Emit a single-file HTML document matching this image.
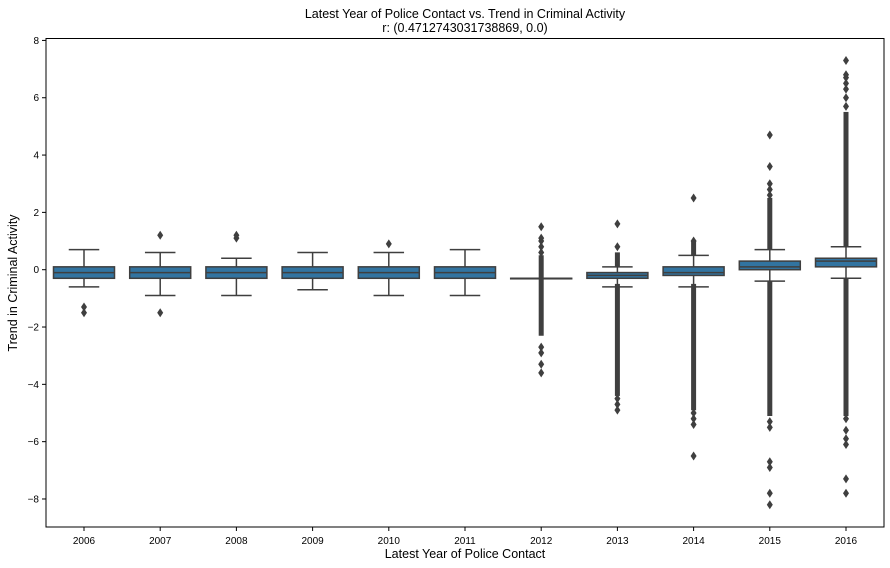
<!DOCTYPE html>
<html><head><meta charset="utf-8"><style>
body{margin:0;background:#fff;}
svg{display:block;font-family:"Liberation Sans","DejaVu Sans",sans-serif;}
</style></head><body>
<svg id="chart" width="890" height="568" viewBox="0 0 890 568" xmlns="http://www.w3.org/2000/svg">
<text x="465" y="18" text-anchor="middle" font-size="12.5" fill="#000">Latest Year of Police Contact vs. Trend in Criminal Activity</text>
<text x="465" y="32" text-anchor="middle" font-size="12.5" fill="#000">r: (0.4712743031738869, 0.0)</text>
<text x="465" y="558" text-anchor="middle" font-size="12.5" fill="#000">Latest Year of Police Contact</text>
<text transform="translate(17,283) rotate(-90)" text-anchor="middle" font-size="12.5" fill="#000">Trend in Criminal Activity</text>
<g id="plot"></g>
</svg>
<script>
const categories=["2006","2007","2008","2009","2010","2011","2012","2013","2014","2015","2016"];
const q1=[-0.3,-0.3,-0.3,-0.3,-0.3,-0.3,-0.3,-0.3,-0.2,0.0,0.1];
const medians=[-0.1,-0.1,-0.1,-0.1,-0.1,-0.1,-0.3,-0.2,-0.1,0.1,0.3];
const q3=[0.1,0.1,0.1,0.1,0.1,0.1,-0.3,-0.1,0.1,0.3,0.4];
const whiskerLo=[-0.6,-0.9,-0.9,-0.7,-0.9,-0.9,-0.3,-0.6,-0.6,-0.4,-0.3];
const whiskerHi=[0.7,0.6,0.4,0.6,0.6,0.7,-0.3,0.1,0.5,0.7,0.8];
const denseUpLo=[null,null,null,null,null,null,-0.2,0.2,0.6,0.8,0.9];
const denseUpHi=[null,null,null,null,null,null,0.4,0.5,0.9,2.4,5.4];
const denseDnHi=[null,null,null,null,null,null,-0.4,-0.6,-0.6,-0.5,-0.4];
const denseDnLo=[null,null,null,null,null,null,-2.2,-4.3,-4.8,-5.0,-5.0];
const fliers=[[-1.3,-1.5],[1.2,-1.5],[1.1,1.2],[],[0.9],[],
[0.6,0.8,1.0,1.1,1.5,-2.7,-2.9,-3.3,-3.6],
[0.8,1.6,-4.5,-4.7,-4.9],
[1.0,2.5,-5.0,-5.2,-5.4,-6.5],
[2.6,2.8,3.0,3.6,4.7,-5.3,-5.5,-6.7,-6.9,-7.8,-8.2],
[5.7,6.0,6.3,6.5,6.7,6.8,7.3,-5.2,-5.6,-5.9,-6.1,-7.3,-7.8]];
const yTicks=[-8,-6,-4,-2,0,2,4,6,8];

const L=46,R=884,T=38.5,B=527,Y0=269.7,PPU=28.66,STEP=76.2,X0=84;
const ys=v=>Y0-v*PPU;
const xs=i=>X0+i*STEP;
const NS="http://www.w3.org/2000/svg";
const g=document.getElementById('plot');
function mk(tag,attrs,parent){const e=document.createElementNS(NS,tag);for(const k in attrs)e.setAttribute(k,attrs[k]);(parent||g).appendChild(e);return e;}
const C="#3f3f3f";
categories.forEach((c,i)=>{
  const x=xs(i),hw=30.5;
  const grp=mk('g',{});
  
  
  mk('line',{x1:x,x2:x,y1:ys(q1[i]),y2:ys(whiskerLo[i]),stroke:C,'stroke-width':1.5},grp);
  mk('line',{x1:x,x2:x,y1:ys(q3[i]),y2:ys(whiskerHi[i]),stroke:C,'stroke-width':1.5},grp);
  mk('line',{x1:x-hw/2,x2:x+hw/2,y1:ys(whiskerLo[i]),y2:ys(whiskerLo[i]),stroke:C,'stroke-width':1.5},grp);
  mk('line',{x1:x-hw/2,x2:x+hw/2,y1:ys(whiskerHi[i]),y2:ys(whiskerHi[i]),stroke:C,'stroke-width':1.5},grp);
  mk('rect',{x:x-hw,y:ys(q3[i]),width:2*hw,height:Math.max(ys(q1[i])-ys(q3[i]),0.5),fill:"#3274a1",stroke:C,'stroke-width':1.5},grp);
  mk('line',{x1:x-hw,x2:x+hw,y1:ys(medians[i]),y2:ys(medians[i]),stroke:C,'stroke-width':1.5},grp);
  if(denseUpLo[i]!==null){
    mk('rect',{x:x-2.5,y:ys(denseUpHi[i])-3,width:5,height:ys(denseUpLo[i])-ys(denseUpHi[i])+6,fill:C},grp);
    mk('rect',{x:x-2.5,y:ys(denseDnHi[i])-3,width:5,height:ys(denseDnLo[i])-ys(denseDnHi[i])+6,fill:C},grp);
  }
  fliers[i].forEach(v=>{
    const y=ys(v);
    const p=mk('path',{d:`M${x},${y-4.5}L${x+3},${y}L${x},${y+4.5}L${x-3},${y}Z`,fill:C},grp);
    
    
  });
  mk('line',{x1:x,x2:x,y1:B,y2:B+4,stroke:"#000",'stroke-width':1},g);
  const t=mk('text',{x:x,y:B+17,'text-anchor':'middle','font-size':10,fill:"#000"},g);
  t.textContent=c;
  
  
});
yTicks.forEach(v=>{
  const y=ys(v);
  mk('line',{x1:L-4,x2:L,y1:y,y2:y,stroke:"#000",'stroke-width':1},g);
  const t=mk('text',{x:L-7,y:y+3.5,'text-anchor':'end','font-size':10,fill:"#000"},g);
  t.textContent=v<0?'\u2212'+Math.abs(v):String(v);
  
  
});
const frame=mk('rect',{x:L,y:T,width:R-L,height:B-T,fill:"none",stroke:"#000",'stroke-width':1},g);


</script>
</body></html>
